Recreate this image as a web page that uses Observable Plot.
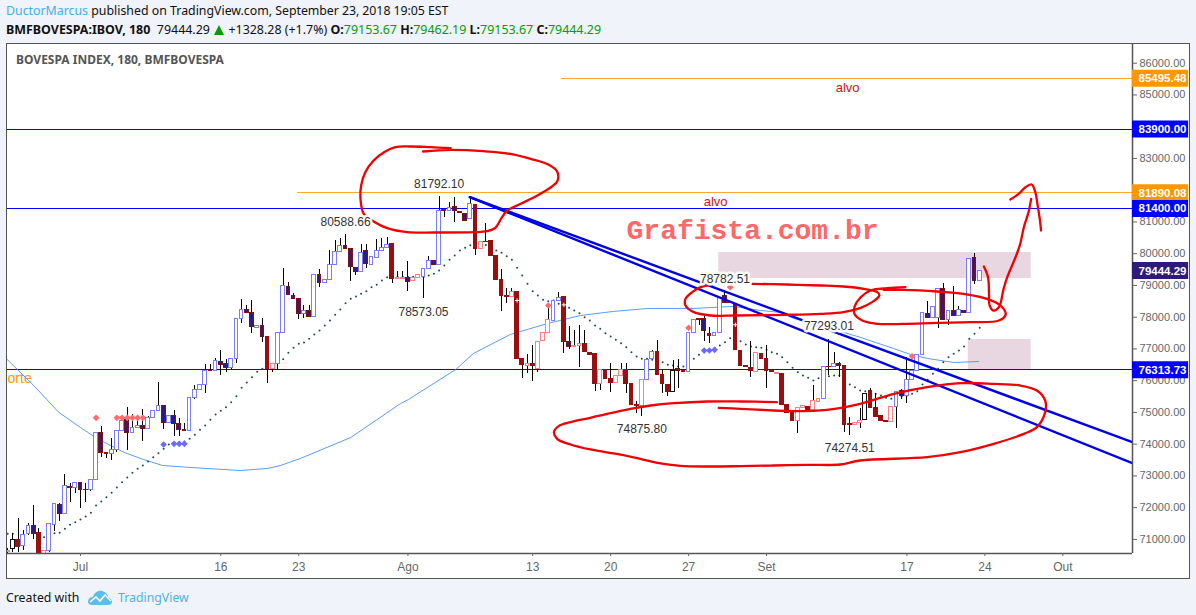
<!DOCTYPE html>
<html>
<head>
<meta charset="utf-8">
<script src="https://cdn.jsdelivr.net/npm/d3@7"></script>
<script src="https://cdn.jsdelivr.net/npm/@observablehq/plot@0.6"></script>
<style>
html,body{margin:0;padding:0;background:#f0f3fa;width:1196px;height:615px;overflow:hidden;font-family:"Noto Sans",sans-serif;color:#111}
#h1,#h2,#foot{position:absolute;white-space:nowrap}
#h1{left:6px;top:2px;font-size:12.35px;line-height:18px}
#h1 a{color:#3fb0e8}
#h2{left:6px;top:21px;font-size:12.45px;line-height:18px}
#h2 b{font-weight:700}
#h2 i{font-style:normal;color:#0a9a0a}
#h2 .up{display:inline-block;width:0;height:0;border-left:5.5px solid transparent;border-right:5.5px solid transparent;border-bottom:10px solid #0a9a0a;vertical-align:-1px;margin:0 1px}
#chart{position:absolute;left:6px;top:43px;width:1184px;height:536px;outline:1.5px solid #555;outline-offset:-1px;background:#fff}
#chart svg{display:block}
#foot{left:6px;top:588px;font-size:12.3px;line-height:20px;height:20px}
#foot .tv{position:absolute;left:112px;top:0;color:#4fb2e3}
#foot svg{position:absolute;left:81px;top:0}
</style>
</head>
<body>
<div id="h1"><a>DuctorMarcus</a> published on TradingView.com, <span id="date">September 23, 2018 19:05 EST</span></div>
<div id="h2"><b>BMFBOVESPA:IBOV, 180</b>&nbsp; 79444.29 <span class="up"></span> +1328.28 (+1.7%) <b>O:</b><i>79153.67</i> <b>H:</b><i>79462.19</i> <b>L:</b><i>79153.67</i> <b>C:</b><i>79444.29</i></div>
<div id="chart"></div>
<div id="foot">Created with
<svg width="26" height="20" viewBox="0 0 26 20"><path d="M1 14 C1 10 4 9 6 9 C7 5 11 2 15 3 C19 4 21 7 21 9 C24 10 25 12 25 14 C25 16 23 17 21 17 L5 17 C3 17 1 16 1 14 Z" fill="#5bbde8"/><path d="M3 14 L9 9 L13 13 L18 7 L24 13" fill="none" stroke="#fff" stroke-width="1.6"/></svg>
<span class="tv">TradingView</span></div>
<script>
// ---- candles (price units): kind, body top, body bottom, wick high, wick low
const kinds = ("pkrbbdrpbb"+"dbrbdrbbdr"+"bbbdbbdbbb"+"dbddrbbbbr"+"bddbbbddbd"+"rpbbdddbdb"+"dbbbbdddbd"+"bbbbrppdpp"+"bbdbrbdddb"+"rprrrrrprr"+"prpppbbrdp"+"prrrprrppr"+"rrpbbrrrkd"+"rbbrdrbbdr"+"rrrrprrrpr"+"rrpprppbdb"+"drrppkrrrr"+"pbdbbbbdbb"+"dbdbdbdb").split("");
const bodyTop = [
70650,70986,70986,71143,71427,71427,71207,70630,71490,72120,
72090,72687,72666,72780,72780,72570,72876,74357,74357,73737,
73821,74400,74745,74766,74514,74566,74587,74829,75029,75207,
75207,74892,74892,74620,74460,75459,75711,75879,76320,76320,
76635,76593,76530,76690,77947,78231,78231,78136,77737,77737,
77391,76530,77507,78987,78955,78672,78577,78200,78200,79333,
79333,79176,79649,80047,80247,80247,80153,79554,80027,80090,
79890,80100,80184,80279,80320,79239,79239,79228,79239,79333,
79522,79775,79775,81339,81381,81433,81486,81318,81255,81570,
81539,80362,80383,80415,79942,79176,78672,78787,78798,76687,
76520,76530,77233,77507,77916,78525,78598,78640,77233,77097,
77150,77160,76876,76855,76330,76330,76057,76162,76330,76330,
75910,75228,76026,76656,76908,76908,76183,75879,76310,76352,
76320,77507,77916,77937,77948,77475,77507,78609,78672,78462,
78420,76940,76467,76414,76876,76845,76687,76320,76236,76215,
75249,74987,75133,75207,75175,75375,75427,76435,76435,76530,
76530,76467,74650,74682,74735,75585,75669,75144,74902,74745,
75186,75648,75680,76026,76310,76814,78137,78105,78315,78892,
78892,78200,78200,78231,78200,79837,79858,79444];
const bodyBot = [
70590,70700,70755,70797,71155,71175,70400,70500,70630,71460,
71805,71805,72613,72613,72561,72550,72550,72876,73716,73695,
73695,73821,74420,74357,74357,74514,74472,74472,74829,75039,
74661,74682,74630,74440,74420,74420,75459,75711,75870,76290,
76320,76488,76404,76404,76687,77947,78126,77685,77654,77370,
76352,76352,76530,77507,78693,78577,78095,78095,78010,78010,
79081,79081,79176,79649,80047,80153,79575,79428,79428,79680,
79649,79869,80090,80194,79207,79207,79207,79113,79134,79239,
79260,79522,79649,79649,81339,81339,81339,81276,81045,81087,
80132,80132,80362,79921,79176,78662,78651,78630,76687,76488,
76467,76456,76372,77244,77507,77895,78525,77212,77055,77055,
77087,76898,76824,75900,75900,76047,75942,75921,76152,75890,
75228,75207,75197,76026,76677,76173,75890,75638,75648,76310,
76278,76268,77507,77916,77559,77401,77401,77496,78462,78441,
76971,76467,76436,76310,76268,76677,76310,76267,76205,75249,
74987,74724,74734,75133,75091,75091,75343,75427,76415,76425,
76467,74598,74619,74619,74682,74766,75144,74850,74734,74703,
74692,75175,75532,75532,76026,76310,76793,77968,77968,77968,
77926,77916,78032,78052,78137,78137,79155,79153];
const wickHi = [
70700,71175,71650,71280,71490,72067,71333,70630,71510,72140,
72120,73033,72750,72800,72800,72750,72876,74357,74556,73737,
74167,74430,74766,75144,74934,74900,75081,74870,75060,75942,
75207,74892,75060,74800,74640,75459,75850,75879,76509,76509,
76690,76950,76656,76690,77947,78546,78368,78525,77737,77948,
77391,76530,77507,79533,79102,78735,78577,78368,78368,79333,
79502,79176,80100,80415,80467,80589,80153,79554,80289,80289,
79890,80446,80467,80520,80320,79449,79449,79753,79239,79333,
79522,79911,79775,81792,81381,81622,81770,81330,81255,81759,
81539,80362,80940,80415,79942,79491,78893,78913,78798,76687,
76814,77107,77233,77507,78420,78525,78787,78640,77706,77580,
77737,77580,76876,76855,76330,76330,76530,76162,76530,76530,
75910,75343,76026,76656,76950,77265,76320,75879,76635,76656,
76320,77507,77916,77937,78053,77664,77507,78609,78783,78462,
78420,76940,76467,77233,76876,76845,77107,76320,76236,76215,
75249,74987,75133,75207,75175,75848,75427,76435,77293,76897,
76582,76467,74850,74682,75112,75585,75742,75585,74902,74745,
75186,75648,75711,76740,76310,76814,78137,78494,78315,78892,
79071,78200,78966,78346,78200,79837,80016,79462];
const wickLo = [
70545,70587,70600,70650,71110,70996,70300,70450,70590,71260,
71565,71785,72150,72455,71983,72160,72520,72855,73590,73540,
73485,73747,74400,73800,74357,74514,74083,74472,74829,75039,
74460,74640,74250,74250,74410,74420,75396,75711,75606,76290,
76320,76162,76268,76341,76530,77811,78126,77496,77654,77212,
75921,76268,76352,77507,78693,78577,77926,77947,78010,78010,
78945,79081,79176,79649,80047,80153,79134,79312,79428,79522,
79649,79869,80090,80194,79070,79207,79207,78819,79134,79239,
78573,79522,79649,79649,81150,81339,80992,81250,81024,81087,
79943,80132,80362,79921,79176,78189,78420,78630,76687,76080,
76215,75984,76268,77244,77507,77895,78525,76866,76971,77055,
76425,76898,76824,75669,75690,76047,75637,75921,76152,75585,
75228,74955,74876,76026,76677,76173,75585,75500,75648,75763,
76278,76268,77507,77727,77244,77160,77401,77496,78462,78441,
76971,76467,76436,76090,76268,76677,75763,76267,76205,75249,
74987,74724,74325,75133,75091,75091,75343,75427,76162,76425,
76110,74378,74275,74600,74482,74766,75144,74850,74734,74703,
74692,74482,75396,75270,76026,76310,76793,77968,77968,77654,
77926,77737,78032,78052,78137,78137,79029,79153];

// dotted trailing series, one per bar (null = not visible)
const dotted = [
71175,71175,null,null,null,null,71070,71070,71070,71196,
71207,71333,71460,71543,71627,71721,71837,72067,72193,72330,
72467,72635,72803,72950,73097,73223,73327,73454,73590,73716,
73853,73989,74031,74063,74084,74168,74293,74451,74587,74766,
74934,75050,75165,75323,75512,75774,75942,76110,76278,76372,
76446,76530,76604,76677,76877,77034,77160,77202,77318,77454,
77580,77738,77895,78074,78242,78441,78578,78651,78735,78819,
78945,79018,79155,79260,79270,79270,79270,79270,79270,79270,
79260,79313,79365,79470,79628,79806,79943,80100,80184,80268,
80289,80289,80270,80152,80100,80026,79921,79806,79554,79313,
79050,78819,78683,78546,78504,78525,78420,78368,78294,78210,
78126,78000,77895,77738,77633,77496,77391,77286,77181,77055,
76897,76761,76688,76688,76656,76635,76583,76498,76478,76446,
76446,76551,76688,76814,76897,76950,77024,77108,77213,77339,
77370,77244,77139,77076,77055,77034,76971,76897,76845,76740,
76583,76404,76268,76163,76089,76005,76079,76110,76142,76163,
76163,76005,75879,75795,75690,75669,75648,75585,75533,75459,
75428,75480,75501,75533,75585,75669,75879,76026,76215,76373,
76583,76740,76845,76950,77076,77318,77475,77664];

// thin moving average
const maIdx = [-0.1,5,9.8,14,17.2,22.3,26.1,29.8,35.2,44.8,50,52.5,56.3,66,75.6,77.1,86.2,89.6,96.7,103.9,110.2,116.5,123.1,131.9,139.6,144.8,148.7,151.2,157.7,164.1,170.4,173.7,177,182,186.8];
const maVal = [76667,75847,75006,74525,74178,73747,73517,73328,73265,73170,73234,73328,73549,74210,75281,75407,76352,76857,77455,77802,78054,78180,78275,78275,78338,78212,78149,77960,77676,77361,77014,76825,76698,76572,76604];

// signal markers
const redMarkIdx = [17,21,22,23,24,25,26,104,131,139,174];
const redMarkVal = [74829,74829,74829,74829,74829,74829,74829,78368,77664,78945,76770];
const blueMarkIdx = [30,32,33,34,134,135,136];
const blueMarkVal = [73989,74010,74010,74010,76950,76950,76971];
const whiteMarkIdx = [98,107,140];
const whiteMarkVal = [78525,78388,77760];

// hi/lo value callouts
const calloutIdx = [83,65,80,122,138,158,162];
const calloutVal = [81792.10,80588.66,78573.05,74875.80,78782.51,77293.01,74274.51];
const calloutDir = [-1,-1,1,1,-1,-1,1];

// horizontal levels and price tags
const blueLevels = [83900,81400,76313.73];
const orangeLevels = [85495.48,81890.08];
const orangeStarts = [106.5,55.7];
const tagVals = [85495.48,83900,81890.08,81400,79444.29,76313.73];
const tagCols = ["#ff9800","#0000ff","#ff9800","#0000ff","#2e1a78","#0000ff"];

// trend lines
const trendIdx = [88.9,216.4];
const trendA = [81779,74062];
const trendB = [81779,73400];

// shaded zones
const zoneIdx1 = [136.8,184.8];
const zoneIdx2 = [196.9,196.9];
const zoneTop = [80037,77297];
const zoneBot = [79218,76313.73];

// hand drawn strokes: index, price
const strokeA = [[85.2,83323],[81.3,83355],[77.5,83376],[74.6,83355],[72.4,83197],[70.4,82934],[68.8,82567],[68,82147],[67.9,81675],[68.5,81255],[70.4,81013],[73,80803],[76.9,80677],[82,80667],[89.7,80677],[92.2,80709],[93.8,80813],[95.1,81150],[96.1,81360],[98.7,81570],[101.9,81832],[104.8,82126],[105.8,82304],[105.7,82588],[104.1,82798],[100.6,82987],[96.7,83144],[91.6,83228],[85.2,83270],[79.9,83218]];
const strokeB = [[148,75323],[141,75344],[134.6,75344],[128.2,75291],[123.7,75218],[119.8,75113],[115.3,74955],[112.1,74829],[108.3,74693],[106,74567],[105.1,74378],[105.7,74168],[108.3,73989],[112.1,73832],[117.9,73674],[121.7,73538],[125,73412],[129.4,73317],[134.6,73296],[141,73307],[147.4,73328],[153.8,73349],[160.2,73359],[164,73485],[176.9,73590],[183.3,73748],[189.7,74010],[195.5,74325],[198,74535],[199.6,75008],[199.6,75375],[198,75690],[194.8,75848],[189.7,75900],[183.3,75921],[176.9,75795],[170.5,75585],[164,75270],[157.6,75081],[151.2,75039],[147.4,75060],[141,75113],[136.8,75144]];
const strokeC = [[135.5,79029],[133.3,78945],[131.7,78788],[130.4,78578],[130.4,78368],[132,78158],[135.2,78053],[140.3,78053],[149.9,78074],[156.4,78105],[160.8,78158],[164.1,78294],[166.3,78473],[167.7,78683],[167.3,78788],[164.7,78893],[160.8,78966],[156.4,78998],[149.9,79029],[143.2,79050]];
const strokeD = [[172.7,78945],[169.2,78914],[166,78840],[164.1,78630],[162.9,78315],[162.9,78105],[164.4,77895],[167.3,77790],[172.4,77790],[178.8,77822],[185.2,77843],[190.7,77895],[192,78084],[191,78368],[188.4,78578],[183.9,78735],[178.8,78809],[172.4,78861],[168.5,78861]];
const strokeE = [[187.8,79596],[188.6,79260],[188.8,78735],[188.9,78368],[189.6,78210],[190.7,78315],[191.6,78893],[192.3,79260],[193.9,79890],[194.8,80310],[195.5,80835],[196.4,81308],[196.9,81728]];
const strokeF = [[192.9,81707],[194.5,81885],[195.8,82095],[197,82179],[197.7,81938],[198.2,81465],[198.6,81045],[198.8,80730]];
const redStrokes = [strokeA,strokeB,strokeC,strokeD,strokeE,strokeF];

// axes
const yTicks = [71000,72000,73000,74000,75000,76000,77000,78000,79000,80000,81000,83000,85000,86000];
const xTicks = [14,41,56,77,101,116,131,146,173,188,203];
const xNames = ["Jul","16","23","Ago","13","20","27","Set","17","24","Out"];

const xMin=-0.135, xMax=216.4, tagEnd=227.2;
const fill = {p:"#fff",k:"#fff",b:"#fff",r:"#990f0f",d:"#2e1a80"};
const edge = {p:"#ff8080",k:"#111",b:"#7b7bff",r:"#990f0f",d:"#7a1212"};
const bars = kinds.map((k,i)=>({i,k,top:bodyTop[i],bot:bodyBot[i],hi:wickHi[i],lo:wickLo[i]}));
const maRows = maIdx.map((x,i)=>({x,y:maVal[i]}));
const pairs = (xs,ys)=>xs.map((x,i)=>({x,y:ys[i]}));
const cr = {clip:true,shapeRendering:"crispEdges"};
const fmt = d3.format(".2f");

const chart = Plot.plot({
  width:1184,height:536,marginLeft:0.5,marginRight:58,marginTop:1,marginBottom:26,
  x:{domain:[xMin,xMax],axis:null},
  y:{domain:[70556,86589],axis:null},
  color:{type:"identity"},
  style:{fontFamily:"Liberation Sans, Arial, sans-serif",background:"#fff",overflow:"visible"},
  marks:[
    Plot.rect(zoneIdx1.map((a,i)=>({a,b:zoneIdx2[i],t:zoneTop[i],u:zoneBot[i]})),{x1:"a",x2:"b",y1:"u",y2:"t",fill:"#e8d6e1",clip:true}),
    Plot.ruleY(blueLevels,{stroke:"#0000ff",strokeWidth:1,dy:-0.85,...cr}),
    Plot.ruleY(orangeLevels.map((v,i)=>({v,s:orangeStarts[i]})),{y:"v",x1:"s",x2:xMax,stroke:"#ffa733",strokeWidth:1,dy:-0.85,clip:true,shapeRendering:"crispEdges"}),
    Plot.text(["orte"],{x:-0.03,y:76068,text:d=>d,textAnchor:"start",fill:"#ff9800",fontSize:14}),
    Plot.text(["alvo"],{x:161.6,y:85235,text:d=>d,fill:"#d01010",fontSize:13}),
    Plot.text(["alvo"],{x:136.2,y:81643,text:d=>d,fill:"#d01010",fontSize:13}),
    Plot.line(maRows,{x:"x",y:"y",stroke:"#5b9cf6",strokeWidth:1,clip:true}),
    Plot.dot(dotted.map((y,x)=>({x,y})).filter(d=>d.y!==null),{x:"x",y:"y",r:1,fill:"#1f4a52",clip:true}),
    Plot.ruleX(bars,{x:"i",y1:"lo",y2:"hi",stroke:"#000",strokeWidth:1,...cr}),
    Plot.rect(bars,{x1:d=>d.i-0.36,x2:d=>d.i+0.36,y1:"bot",y2:"top",fill:d=>fill[d.k],stroke:d=>edge[d.k],strokeWidth:1,...cr}),
    Plot.dot(pairs(redMarkIdx,redMarkVal),{x:"x",y:"y",r:3,symbol:"diamond2",fill:"#ff6a6a"}),
    Plot.dot(pairs(blueMarkIdx,blueMarkVal),{x:"x",y:"y",r:3,symbol:"diamond2",fill:"#6a6aff"}),
    Plot.dot(pairs(whiteMarkIdx,whiteMarkVal),{x:"x",y:"y",r:1.5,symbol:"plus",stroke:"#fff",strokeWidth:1}),
    Plot.line(trendIdx.map((x,i)=>({x,y:trendA[i]})),{x:"x",y:"y",stroke:"#0000e6",strokeWidth:2.4,clip:true}),
    Plot.line(trendIdx.map((x,i)=>({x,y:trendB[i]})),{x:"x",y:"y",stroke:"#0000e6",strokeWidth:2.4,clip:true}),
    ...redStrokes.map(s=>Plot.line(s,{x:d=>d[0],y:d=>d[1],stroke:"#f00000",strokeWidth:2.3,curve:"catmull-rom",clip:true})),
    Plot.text(["Grafista.com.br"],{x:143.3,y:80730,text:d=>d,fill:"#ff6868",fontFamily:"Liberation Mono, monospace",fontWeight:"bold",fontSize:28}),
    Plot.text(calloutIdx.map((x,i)=>({x,y:calloutVal[i],d:calloutDir[i]})).filter(d=>d.d<0),{x:"x",y:"y",text:d=>fmt(d.y),dy:-13,fill:"#333",fontSize:12,stroke:"#fff",strokeWidth:5,strokeOpacity:.95,paintOrder:"stroke"}),
    Plot.text(calloutIdx.map((x,i)=>({x,y:calloutVal[i],d:calloutDir[i]})).filter(d=>d.d>0),{x:"x",y:"y",text:d=>fmt(d.y),dy:13,fill:"#333",fontSize:12,stroke:"#fff",strokeWidth:5,strokeOpacity:.95,paintOrder:"stroke"}),
    Plot.text(["BOVESPA INDEX, 180, BMFBOVESPA"],{frameAnchor:"top-left",dx:9,dy:11,text:d=>d,fill:"#555",fontFamily:"Noto Sans, sans-serif",fontWeight:"bold",fontSize:12}),
    Plot.ruleX([xMax],{stroke:"#555",strokeWidth:1.5}),
    Plot.ruleY([70556],{stroke:"#555",strokeWidth:1.5}),
    Plot.axisY(yTicks,{anchor:"right",label:null,tickFormat:fmt,tickSize:4,tickPadding:3,fontSize:11,color:"#666"}),
    Plot.axisX(xTicks,{anchor:"bottom",label:null,tickFormat:i=>xNames[xTicks.indexOf(i)],tickSize:3,tickPadding:6,fontSize:12,color:"#666"}),
    Plot.ruleY(tagVals.map((v,i)=>({v,c:tagCols[i]})),{y:"v",x1:xMax,x2:tagEnd,stroke:"c",strokeWidth:17,dy:-0.85}),
    Plot.text(tagVals,{x:xMax,y:d=>d,text:fmt,dx:6,dy:-0.5,textAnchor:"start",fill:"#fff",fontWeight:"bold",fontSize:11.5})
  ]
});
document.getElementById("chart").appendChild(chart);
// fit the date stamp to the width it has in the reference header
const dateEl = document.getElementById("date");
const dateW = dateEl.getBoundingClientRect().width;
dateEl.style.letterSpacing = ((173 - dateW) / dateEl.textContent.length) + "px";
</script>
</body>
</html>
